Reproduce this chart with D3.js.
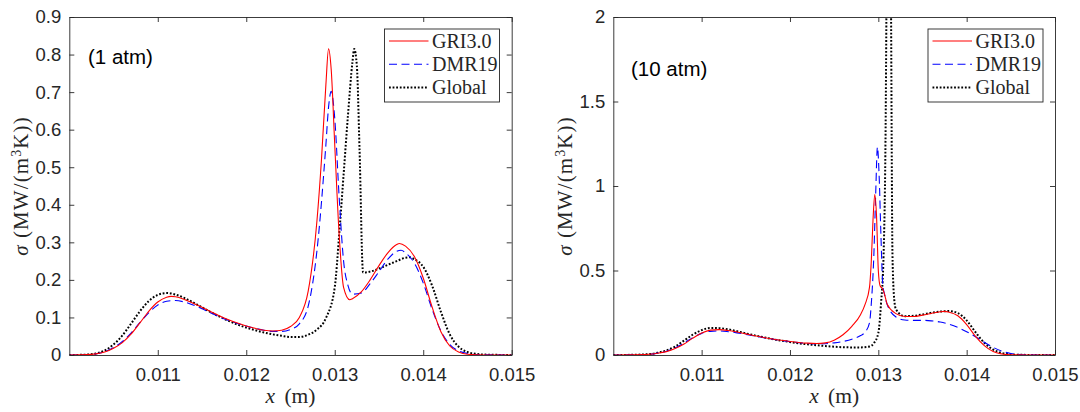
<!DOCTYPE html>
<html>
<head>
<meta charset="utf-8">
<script src="https://cdn.jsdelivr.net/npm/d3@7"></script>
<style>
  body { margin: 0; background: #fff; }
  svg { display: block; }
</style>
</head>
<body>
<div id="chart"></div>
<script>
// tick values and labels
var xTicks = [0.011, 0.012, 0.013, 0.014, 0.015];
var xTickLabels = ["0.011", "0.012", "0.013", "0.014", "0.015"];
var yTicks1 = [0, 0.1, 0.2, 0.3, 0.4, 0.5, 0.6, 0.7, 0.8, 0.9];
var yTickLabels1 = ["0", "0.1", "0.2", "0.3", "0.4", "0.5", "0.6", "0.7", "0.8", "0.9"];
var yTicks10 = [0, 0.5, 1, 1.5, 2];
var yTickLabels10 = ["0", "0.5", "1", "1.5", "2"];

var seriesNames = ["GRI3.0", "DMR19", "Global"];
var panelLabels = ["(1 atm)", "(10 atm)"];

// sigma (MW/(m3K)) against x (m)
// 1 atm
var gri_1atm = [[0.0100,0],[0.0102,0.001],[0.0103,0.003],[0.0104,0.008],[0.0105,0.018],[0.0106,0.033],[0.0107,0.056],[0.0108,0.086],[0.0109,0.117],[0.0110,0.141],[0.0111,0.154],[0.01115,0.156],[0.0112,0.155],[0.0113,0.148],[0.0114,0.138],[0.0115,0.127],[0.0116,0.115],[0.0117,0.104],[0.0118,0.094],[0.0119,0.085],[0.0120,0.077],[0.0121,0.071],[0.0122,0.066],[0.0123,0.064],[0.0124,0.066],[0.0125,0.076],[0.0126,0.1],[0.0127,0.17],[0.0128,0.36],[0.01285,0.52],[0.0129,0.72],[0.01293,0.815],[0.01296,0.76],[0.0130,0.56],[0.01305,0.32],[0.0131,0.18],[0.01317,0.147],[0.0132,0.15],[0.0133,0.168],[0.0134,0.2],[0.0135,0.238],[0.0136,0.272],[0.0137,0.294],[0.01373,0.297],[0.0138,0.29],[0.0139,0.262],[0.0140,0.205],[0.0141,0.128],[0.0142,0.062],[0.0143,0.024],[0.0144,0.008],[0.0145,0.002],[0.0147,0],[0.0150,0]];
var dmr_1atm = [[0.0100,0],[0.0102,0.001],[0.0103,0.003],[0.0104,0.009],[0.0105,0.02],[0.0106,0.036],[0.0107,0.059],[0.0108,0.087],[0.0109,0.113],[0.0110,0.133],[0.0111,0.143],[0.0112,0.145],[0.0113,0.141],[0.0114,0.133],[0.0115,0.123],[0.0116,0.112],[0.0117,0.101],[0.0118,0.092],[0.0119,0.084],[0.0120,0.077],[0.0121,0.071],[0.0122,0.066],[0.0123,0.063],[0.0124,0.063],[0.0125,0.068],[0.0126,0.083],[0.0127,0.13],[0.0128,0.28],[0.0129,0.56],[0.01293,0.66],[0.01296,0.702],[0.0130,0.63],[0.01305,0.42],[0.0131,0.25],[0.01315,0.185],[0.0132,0.162],[0.0133,0.165],[0.0134,0.19],[0.0135,0.222],[0.0136,0.255],[0.0137,0.276],[0.01375,0.279],[0.0138,0.272],[0.0139,0.245],[0.0140,0.192],[0.0141,0.122],[0.0142,0.064],[0.0143,0.028],[0.0144,0.011],[0.0145,0.004],[0.0146,0.001],[0.0150,0]];
var global_1atm = [[0.0100,0],[0.0102,0.001],[0.0103,0.004],[0.0104,0.012],[0.0105,0.028],[0.0106,0.052],[0.0107,0.084],[0.0108,0.117],[0.0109,0.144],[0.0110,0.16],[0.0111,0.165],[0.0112,0.161],[0.0113,0.152],[0.0114,0.14],[0.0115,0.127],[0.0116,0.114],[0.0117,0.102],[0.0118,0.091],[0.0119,0.081],[0.0120,0.073],[0.0121,0.066],[0.0122,0.06],[0.0123,0.055],[0.0124,0.051],[0.0125,0.048],[0.0126,0.048],[0.0127,0.054],[0.0128,0.068],[0.0129,0.098],[0.0130,0.18],[0.01305,0.32],[0.0131,0.48],[0.01315,0.64],[0.0132,0.78],[0.01322,0.815],[0.01325,0.77],[0.01328,0.55],[0.01332,0.22],[0.01335,0.22],[0.0134,0.222],[0.0135,0.23],[0.0136,0.24],[0.0137,0.25],[0.0138,0.259],[0.01385,0.26],[0.0139,0.255],[0.0140,0.235],[0.0141,0.185],[0.0142,0.115],[0.0143,0.055],[0.0144,0.022],[0.0145,0.008],[0.0146,0.003],[0.0147,0.001],[0.0150,0]];
// 10 atm
var gri_10atm = [[0.0100,0],[0.0102,0.001],[0.0104,0.004],[0.0105,0.01],[0.0106,0.02],[0.0107,0.038],[0.0108,0.065],[0.0109,0.1],[0.0110,0.13],[0.0111,0.147],[0.0112,0.15],[0.0113,0.145],[0.0114,0.136],[0.0115,0.125],[0.0116,0.114],[0.0117,0.104],[0.0118,0.095],[0.0119,0.087],[0.0120,0.08],[0.0121,0.074],[0.0122,0.07],[0.0123,0.068],[0.0124,0.072],[0.0125,0.088],[0.0126,0.12],[0.0127,0.17],[0.0128,0.24],[0.01285,0.3],[0.0129,0.4],[0.01292,0.55],[0.01294,0.8],[0.01296,0.95],[0.01298,0.82],[0.0130,0.5],[0.01302,0.41],[0.01305,0.39],[0.01308,0.34],[0.0131,0.3],[0.0132,0.245],[0.0133,0.228],[0.0134,0.228],[0.0135,0.236],[0.0136,0.246],[0.0137,0.256],[0.01375,0.258],[0.0138,0.253],[0.0139,0.232],[0.0140,0.18],[0.0141,0.11],[0.0142,0.055],[0.0143,0.02],[0.0144,0.006],[0.0145,0.001],[0.0150,0]];
var dmr_10atm = [[0.0100,0],[0.0102,0.001],[0.0104,0.004],[0.0105,0.011],[0.0106,0.022],[0.0107,0.042],[0.0108,0.07],[0.0109,0.103],[0.0110,0.128],[0.0111,0.14],[0.0112,0.142],[0.0113,0.138],[0.0114,0.131],[0.0115,0.122],[0.0116,0.112],[0.0117,0.103],[0.0118,0.094],[0.0119,0.086],[0.0120,0.079],[0.0121,0.073],[0.0122,0.068],[0.0123,0.066],[0.0124,0.067],[0.0125,0.072],[0.0126,0.08],[0.0127,0.093],[0.0128,0.115],[0.01285,0.135],[0.0129,0.19],[0.01292,0.3],[0.01295,0.6],[0.01297,0.95],[0.01299,1.23],[0.01301,1.05],[0.01303,0.7],[0.01305,0.42],[0.01307,0.36],[0.0131,0.3],[0.0132,0.225],[0.0133,0.207],[0.0134,0.205],[0.0135,0.205],[0.0136,0.202],[0.0137,0.195],[0.0138,0.182],[0.0139,0.163],[0.0140,0.138],[0.0141,0.108],[0.0142,0.075],[0.0143,0.045],[0.0144,0.022],[0.0145,0.009],[0.0146,0.003],[0.0147,0.001],[0.0150,0]];
var global_10atm = [[0.0100,0],[0.0102,0.001],[0.0104,0.005],[0.0105,0.013],[0.0106,0.027],[0.0107,0.05],[0.0108,0.085],[0.0109,0.12],[0.0110,0.147],[0.0111,0.16],[0.0112,0.159],[0.0113,0.152],[0.0114,0.141],[0.0115,0.128],[0.0116,0.116],[0.0117,0.105],[0.0118,0.094],[0.0119,0.085],[0.0120,0.077],[0.0121,0.069],[0.0122,0.063],[0.0123,0.058],[0.0124,0.053],[0.0125,0.049],[0.0126,0.046],[0.0127,0.045],[0.0128,0.045],[0.0129,0.05],[0.01295,0.07],[0.0130,0.13],[0.01303,0.3],[0.01306,0.6],[0.01308,1.2],[0.0131,2.6],[0.01312,3.2],[0.01314,2.4],[0.01316,0.6],[0.01318,0.33],[0.0132,0.27],[0.0133,0.23],[0.0134,0.232],[0.0135,0.24],[0.0136,0.25],[0.0137,0.257],[0.0138,0.26],[0.0139,0.248],[0.0140,0.205],[0.0141,0.135],[0.0142,0.072],[0.0143,0.032],[0.0144,0.012],[0.0145,0.004],[0.0146,0.001],[0.0150,0]];

var W = 1080, H = 412;
var axisColor = "#262626";
var styles = [
  {color: "#ff0000", width: 1.1, dash: null},
  {color: "#0000ff", width: 1.1, dash: "8,4.5"},
  {color: "#000000", width: 2, dash: "1.8,1.8"}
];

var svg = d3.select("#chart").append("svg")
  .attr("width", W)
  .attr("height", H);

function drawPanel(id, box, yMax, yTicks, yTickLabels, data, label, labelPos, legendX) {
  var x = d3.scaleLinear().domain([0.010, 0.015]).range([box.x0, box.x1]);
  var y = d3.scaleLinear().domain([0, yMax]).range([box.y1, box.y0]);

  svg.append("clipPath").attr("id", "clip" + id)
    .append("rect")
    .attr("x", box.x0).attr("y", box.y0)
    .attr("width", box.x1 - box.x0).attr("height", box.y1 - box.y0);

  var line = d3.line()
    .x(function(d) { return x(d[0]); })
    .y(function(d) { return y(d[1]); })
    .curve(d3.curveMonotoneX);

  // curves, drawn Global first so red/blue stay on top like in the figure
  var g = svg.append("g").attr("clip-path", "url(#clip" + id + ")");
  [2, 1, 0].forEach(function(i) {
    g.append("path")
      .datum(data[i])
      .attr("fill", "none")
      .attr("stroke", styles[i].color)
      .attr("stroke-width", styles[i].width)
      .attr("stroke-dasharray", styles[i].dash)
      .attr("d", line);
  });

  // axes, ticks inward on all four sides (box)
  var tl = 5;
  var bottom = d3.axisBottom(x).tickValues(xTicks).tickSizeInner(-tl).tickSizeOuter(0)
    .tickFormat(function(d, i) { return xTickLabels[i]; }).tickPadding(13);
  var top = d3.axisTop(x).tickValues(xTicks).tickSizeInner(-tl).tickSizeOuter(0).tickFormat("");
  var left = d3.axisLeft(y).tickValues(yTicks).tickSizeInner(-tl).tickSizeOuter(0)
    .tickFormat(function(d, i) { return yTickLabels[i]; }).tickPadding(8);
  var right = d3.axisRight(y).tickValues(yTicks).tickSizeInner(-tl).tickSizeOuter(0).tickFormat("");

  var axes = [
    svg.append("g").attr("transform", "translate(0," + box.y1 + ")").call(bottom),
    svg.append("g").attr("transform", "translate(0," + box.y0 + ")").call(top),
    svg.append("g").attr("transform", "translate(" + box.x0 + ",0)").call(left),
    svg.append("g").attr("transform", "translate(" + box.x1 + ",0)").call(right)
  ];
  axes.forEach(function(a) {
    a.select(".domain").attr("stroke", axisColor).attr("stroke-width", 0.9);
    a.selectAll(".tick line").attr("stroke", axisColor).attr("stroke-width", 0.9);
    a.selectAll(".tick text")
      .attr("fill", axisColor)
      .style("font-family", "'Liberation Sans', Arial, sans-serif")
      .style("font-size", "18.5px");
  });

  // axis titles
  var cx = (box.x0 + box.x1) / 2;
  var xl = svg.append("text")
    .attr("x", cx).attr("y", 403)
    .attr("text-anchor", "middle")
    .attr("fill", axisColor)
    .style("font-family", "'Liberation Serif', 'Times New Roman', serif")
    .style("font-size", "21.5px")
    .style("word-spacing", "4px");
  xl.append("tspan").style("font-style", "italic").text("x");
  xl.append("tspan").text(" (m)");

  var cy = (box.y0 + box.y1) / 2;
  var yl = svg.append("text")
    .attr("transform", "translate(" + (box.x0 - 41) + "," + cy + ") rotate(-90)")
    .attr("text-anchor", "middle")
    .attr("fill", axisColor)
    .style("font-family", "'Liberation Serif', 'Times New Roman', serif")
    .style("font-size", "21px")
    .style("letter-spacing", "1.1px");
  yl.append("tspan").style("font-style", "italic").text("σ");
  yl.append("tspan").text(" (MW/(m");
  yl.append("tspan").attr("dy", -7).style("font-size", "14px").text("3");
  yl.append("tspan").attr("dy", 7).text("K))");

  // panel label
  svg.append("text")
    .attr("x", labelPos[0]).attr("y", labelPos[1])
    .attr("fill", "#000")
    .style("font-family", "'Liberation Sans', Arial, sans-serif")
    .style("font-size", "20.5px")
    .text(label);

  // legend
  var lg = svg.append("g").attr("transform", "translate(" + legendX + ",29)");
  lg.append("rect")
    .attr("width", 115).attr("height", 73)
    .attr("fill", "#fff")
    .attr("stroke", axisColor).attr("stroke-width", 0.9);
  seriesNames.forEach(function(name, i) {
    var ry = 12 + i * 23.3;
    lg.append("line")
      .attr("x1", 4.5).attr("x2", 44).attr("y1", ry).attr("y2", ry)
      .attr("stroke", styles[i].color)
      .attr("stroke-width", styles[i].width)
      .attr("stroke-dasharray", styles[i].dash);
    lg.append("text")
      .attr("x", 47.5).attr("y", ry + 6.5)
      .attr("fill", axisColor)
      .style("font-family", "'Liberation Serif', 'Times New Roman', serif")
      .style("font-size", "20px")
      .text(name);
  });
}

drawPanel(1, {x0: 69.3, x1: 511.7, y0: 17, y1: 355}, 0.9, yTicks1, yTickLabels1,
  [gri_1atm, dmr_1atm, global_1atm], panelLabels[0], [88, 64], 384.5);
drawPanel(2, {x0: 613.3, x1: 1055, y0: 17, y1: 355}, 2, yTicks10, yTickLabels10,
  [gri_10atm, dmr_10atm, global_10atm], panelLabels[1], [631, 76], 928);
</script>
</body>
</html>
